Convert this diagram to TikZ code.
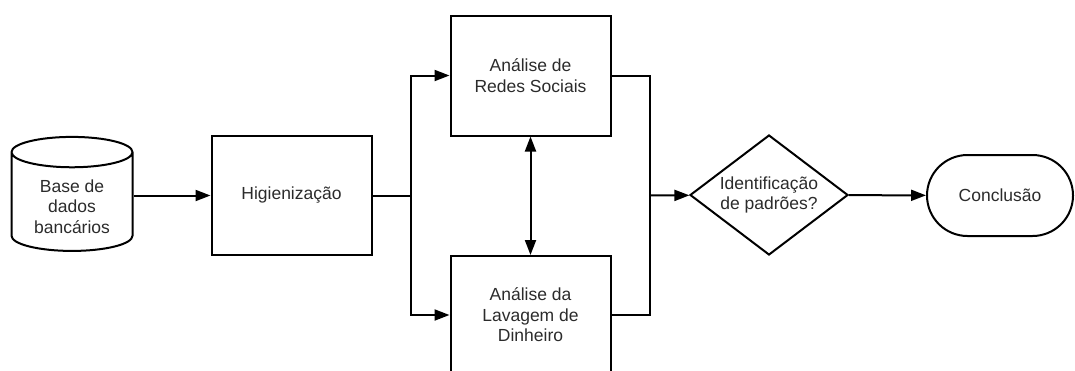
\documentclass[tikz,border=0pt]{standalone}
\usepackage{fontspec}
\setmainfont{Liberation Sans}
\usetikzlibrary{positioning,shapes.geometric,shapes.misc,arrows.meta}
\definecolor{txtgray}{HTML}{2B2B2B}

\begin{document}
\begin{tikzpicture}[x=1pt,y=-1pt,
    every node/.style={font=\fontsize{17.5}{20.5}\selectfont,text=txtgray,align=center,inner sep=0pt},
    box/.style={rectangle,draw,line width=2pt,minimum width=160pt,minimum height=119pt},
    link/.style={line width=2pt,-{Triangle[length=15pt,width=11pt]}},
    both/.style={line width=2pt,{Triangle[length=15pt,width=11pt]}-{Triangle[length=15pt,width=11pt]}},
    wire/.style={line width=2pt}]
\useasboundingbox (0,0) rectangle (1075,370);
\node [cylinder,draw,line width=2pt,shape border rotate=90,aspect=0.4,minimum width=121pt,minimum height=114pt] (db) at (72,202) {\phantom{Base de}\\\phantom{dados}\\\phantom{bancários}};
\node (dbtxt) at (72,206.5) {Base de\\dados\\bancários};
\node [box] (hig) at (291.5,195.5) {Higienização};
\node [box,minimum height=120pt] (redes) at (530.5,75.5) {Análise de\\Redes Sociais};
\node [box,minimum height=118pt] (lavagem) at (530.5,315) {Análise da\\Lavagem de\\Dinheiro};
\node [diamond,draw,line width=2pt,aspect=1.32,minimum width=158pt,minimum height=120pt] (padroes) at (769,195) {Identificação\\de padrões?};
\node [rounded rectangle,draw,line width=2pt,minimum width=146pt,minimum height=81pt] (concl) at (1000,195.5) {Conclusão};

\coordinate (split) at (410.5,195.5);
\coordinate (merge) at (649.5,195.5);

\draw [link] (db.east |- hig.west) -- (hig.west);
\draw [wire] (hig) -- (split);
\draw [link] (split) |- (redes.west);
\draw [link] (split) |- (lavagem.west);
\draw [both] (redes) -- (lavagem);
\draw [wire] (redes.east) -| (merge);
\draw [wire] (lavagem.east) -| (merge);
\draw [link] (merge) -- (padroes);
\draw [link] (padroes) -- (concl);
\end{tikzpicture}
\end{document}
